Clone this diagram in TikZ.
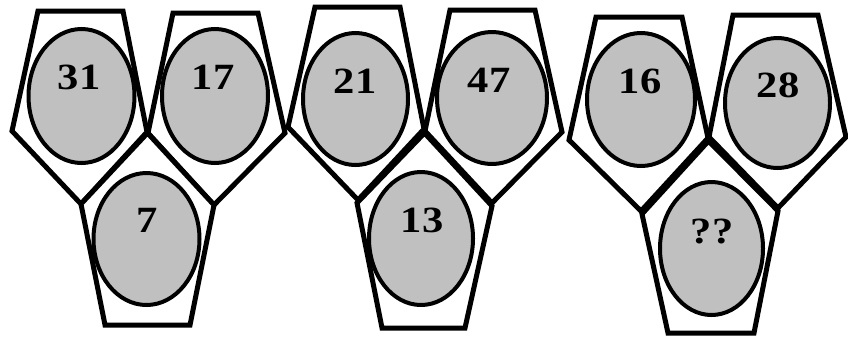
\documentclass[tikz,border=0pt]{standalone}
\usepackage{fontspec}
\setmainfont{Liberation Serif}
\newfontfamily\numfont[FakeStretch=1.15]{Liberation Serif}
\begin{document}
\begin{tikzpicture}[x=1pt,y=-1pt,
  penta/.style={draw=black,line width=5pt,line join=miter,fill=white},
  egg/.style={draw=black,line width=4pt,fill=eggfill},
  num/.style={anchor=base,inner sep=0pt,font=\numfont\fontsize{37}{40}\selectfont\bfseries}]
\definecolor{eggfill}{HTML}{C0C0C0}
\fill[white] (0,0) rectangle (848,338);
\useasboundingbox (0,0) rectangle (848,338);
% group 1
\draw[penta] (38,11) -- (123,11) -- (147,132) -- (81,204) -- (12,131) -- cycle;
\draw[penta] (173,13) -- (258,13) -- (285,133) -- (214,205) -- (148,133) -- cycle;
\draw[penta] (147.5,133) -- (214,205) -- (190,325) -- (105,325) -- (81,204) -- cycle;
\draw[egg] (81.5,96) ellipse [x radius=53, y radius=67];
\draw[egg] (215,96) ellipse [x radius=53, y radius=67];
\draw[egg] (146.5,239) ellipse [x radius=53, y radius=66];
\node[num] (n31) at (79,89) {31};
\node[num] (n17) at (213,89) {17};
\node[num] (n7) at (147,232) {7};
% group 2
\draw[penta] (315,7) -- (400,7) -- (424,129) -- (358,200) -- (288,127) -- cycle;
\draw[penta] (450,10) -- (535,10) -- (562,132) -- (492,203) -- (425,131) -- cycle;
\draw[penta] (424.5,133) -- (492,206) -- (465,328) -- (382,328) -- (357,203) -- cycle;
\draw[egg] (355.5,99) ellipse [x radius=52.5, y radius=66];
\draw[egg] (492,98) ellipse [x radius=55, y radius=66];
\draw[egg] (421,238.5) ellipse [x radius=52, y radius=66.5];
\node[num] (n21) at (355,93) {21};
\node[num] (n47) at (489,92) {47};
\node[num] (n13) at (422,232) {13};
% group 3
\draw[penta] (596,17) -- (682,17) -- (708,138) -- (641,211) -- (569,140) -- cycle;
\draw[penta] (733,15) -- (818,15) -- (846,137) -- (778,208) -- (709,137) -- cycle;
\draw[penta] (708.5,141) -- (778,211) -- (754,333) -- (668,333) -- (642,214) -- cycle;
\draw[egg] (641,99.5) ellipse [x radius=54, y radius=66.5];
\draw[egg] (777.5,103) ellipse [x radius=52.5, y radius=65];
\draw[egg] (711.5,248.5) ellipse [x radius=51.5, y radius=66.5];
\node[num] (n16) at (640,93) {16};
\node[num] (n28) at (778,97) {28};
\node[num] (nq) at (712,243) {??};
\end{tikzpicture}
\end{document}
